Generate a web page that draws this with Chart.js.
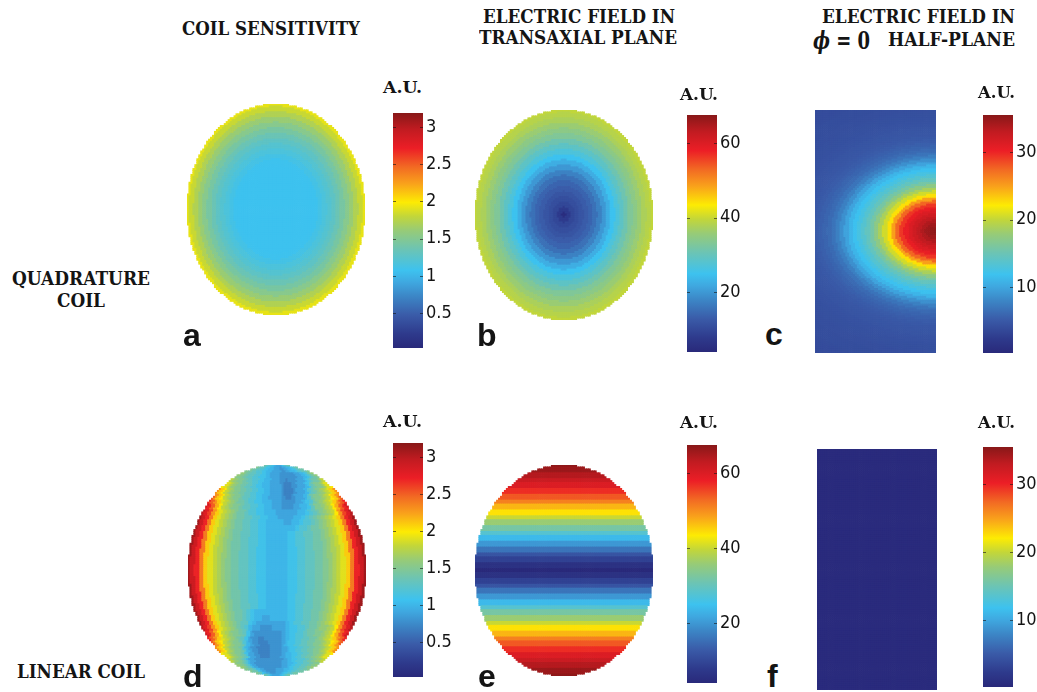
<!DOCTYPE html>
<html><head><meta charset="utf-8">
<script src="https://cdn.jsdelivr.net/npm/chart.js@4.4.1/dist/chart.umd.min.js"></script>
<style>
html,body{margin:0;padding:0;background:#fff;}
#root{position:relative;width:1037px;height:692px;overflow:hidden;background:#fff;}
.box{position:absolute;}
.box canvas{display:block;}
.t{position:absolute;white-space:nowrap;color:#141414;transform-origin:0 0;}
</style></head><body><div id="root"></div>
<script>
// ================= DATA =================
const sensTicks = [0.5, 1, 1.5, 2, 2.5, 3];
const transTicks = [20, 40, 60];
const halfTicks = [10, 20, 30];
const sensRange = [0.03, 3.19];
const transRange = [4, 67.5];
const halfRange = [0.2, 35.5];

// (a) quadrature coil sensitivity vs normalised elliptical radius r = 0, 0.05 ... 1
const quadSensByRadius = [1.07,1.07,1.07,1.07,1.07,1.07,1.07,1.07,1.07,1.08,1.12,1.17,1.22,1.28,1.35,1.43,1.52,1.62,1.72,1.82,1.92];
// (b) quadrature coil E-field (transaxial) vs radius r = 0, 0.05 ... 1
const quadTransByRadius = [5,8,10,11,12,13,14,15.5,17.5,20,22.5,25,27,29,31,33,34.5,36,37.5,38.5,39.5];
// (c) quadrature coil E-field (phi=0 half-plane) vs distance s from the hot spot, s = 0, 0.05 ... 2.5
const quadHalfByDistance = [35.3,35,34.5,33.8,33,32.2,31.4,30.5,29.3,27.5,25,22.5,20.5,18.8,17.2,15.7,14.5,13.5,12.6,11.8,
  11,9.8,8.6,7.6,6.8,6.2,5.8,5.5,5.2,5,4.8,4.7,4.6,4.5,4.4,4.3,4.25,4.2,4.15,4.1,
  4.05,4,4,3.95,3.9,3.9,3.85,3.8,3.8,3.75,3.7];
// (d) linear coil sensitivity (x10): rows v = 1 ... -1 (step 0.05), columns u = -1 ... 1 (step 0.05)
const linSensRows = [
 [14,14,14,13,13,13,13,12,12,12,12,11,11,11,11,10,10,10,10,9,9, 9,9,9,9,9,9,10,10,10,11,11,11,12,12,12,13,13,13,14,14],
 [15,15,14,14,14,13,13,13,12,12,12,11,11,11,10,10,10,10,9,9,9, 9,9,8,8,8,9,9,9,10,10,10,11,11,12,12,13,13,14,14,15],
 [16,16,15,15,14,14,13,13,13,12,12,12,11,11,11,10,10,9,9,9,9, 9,8,8,8,8,8,8,8,8,9,9,9,10,10,11,12,13,14,15,16],
 [18,17,16,16,15,15,14,14,13,13,12,12,12,11,11,10,10,10,9,9,9, 9,8,8,7,8,8,8,8,9,9,9,10,11,12,13,14,14,15,17,18],
 [20,19,18,17,16,15,15,14,14,13,13,12,12,11,11,10,10,10,9,9,9, 9,8,7,7,7,8,8,9,9,9,10,11,13,14,15,15,16,17,19,20],
 [23,21,20,18,17,16,15,15,14,14,13,13,12,12,11,11,10,10,9,9,9, 9,8,7,7,7,8,9,9,9,10,12,13,14,15,16,17,18,19,21,23],
 [25,23,21,20,18,17,16,15,15,14,13,13,12,12,11,11,10,10,9,9,9, 9,8,7,7,8,9,9,9,10,12,14,15,15,16,17,18,20,21,23,25],
 [27,25,23,21,19,18,17,16,15,14,14,13,12,12,11,11,10,10,10,9,9, 9,8,8,8,8,9,9,10,11,12,14,15,16,17,18,19,21,23,25,27],
 [29,27,25,22,20,18,17,16,15,15,14,13,13,12,12,11,11,10,10,9,9, 9,8,8,8,9,9,10,10,11,13,15,15,16,17,18,20,22,25,27,29],
 [30,28,26,23,21,19,18,17,16,15,14,14,13,12,12,11,11,10,10,10,9, 9,9,9,9,9,10,10,11,12,13,14,15,16,17,18,20,23,26,28,30],
 [31,29,27,24,21,19,18,17,16,15,14,14,13,13,12,12,11,11,10,10,10, 9,9,9,9,10,10,11,12,13,14,15,16,17,18,19,21,24,27,29,31],
 [31,29,27,24,21,19,18,17,16,15,14,14,13,13,12,12,11,11,10,10,10, 10,9,9,10,10,11,12,12,13,14,15,16,17,18,19,21,24,27,29,31],
 [31,29,27,24,21,19,18,17,16,15,14,14,13,13,12,12,11,11,10,10,10, 10,10,10,10,11,12,12,13,14,14,15,16,17,18,19,21,24,27,29,31],
 [31,29,27,24,21,19,18,17,16,15,14,14,13,13,12,12,11,11,10,10,10, 10,10,11,11,12,12,13,13,14,14,15,16,17,18,19,21,24,27,29,31],
 [31,29,27,24,21,19,18,17,16,15,14,14,13,13,12,12,11,11,10,10,10, 10,10,11,11,12,12,13,13,14,14,15,16,17,18,19,21,24,27,29,31],
 [31,29,27,24,21,19,18,17,16,15,14,14,13,13,12,12,11,11,10,10,10, 10,10,11,11,12,12,13,13,14,14,15,16,17,18,19,21,24,27,29,31],
 [31,29,27,24,21,19,18,17,16,15,14,14,13,13,12,12,11,11,10,10,10, 10,10,11,11,12,12,13,13,14,14,15,16,17,18,19,21,24,27,29,31],
 [31,29,27,24,21,19,18,17,16,15,14,14,13,13,12,12,11,11,10,10,10, 10,10,11,11,12,12,13,13,14,14,15,16,17,18,19,21,24,27,29,31],
 [31,29,27,24,21,19,18,17,16,15,14,14,13,13,12,12,11,11,10,10,10, 10,10,11,11,12,12,13,13,14,14,15,16,17,18,19,21,24,27,29,31],
 [31,29,27,24,21,19,18,17,16,15,14,14,13,13,12,12,11,11,10,10,10, 10,10,11,11,12,12,13,13,14,14,15,16,17,18,19,21,24,27,29,31],
 [31,29,27,24,21,19,18,17,16,15,14,14,13,13,12,12,11,11,10,10,10, 10,10,11,11,12,12,13,13,14,14,15,16,17,18,19,21,24,27,29,31],
 [31,29,27,24,21,19,18,17,16,15,14,14,13,13,12,12,11,11,10,10,10, 10,10,11,11,12,12,13,13,14,14,15,16,17,18,19,21,24,27,29,31],
 [31,29,27,24,21,19,18,17,16,15,14,14,13,13,12,12,11,11,10,10,10, 10,10,11,11,12,12,13,13,14,14,15,16,17,18,19,21,24,27,29,31],
 [31,29,27,24,21,19,18,17,16,15,14,14,13,13,12,12,11,11,10,10,10, 10,10,11,11,12,12,13,13,14,14,15,16,17,18,19,21,24,27,29,31],
 [31,29,27,24,21,19,18,17,16,15,14,14,13,13,12,12,11,11,10,10,10, 10,10,11,11,12,12,13,13,14,14,15,16,17,18,19,21,24,27,29,31],
 [31,29,27,24,21,19,18,17,16,15,14,14,13,13,12,12,11,11,10,10,10, 10,10,11,11,12,12,13,13,14,14,15,16,17,18,19,21,24,27,29,31],
 [31,29,27,24,21,19,18,17,16,15,14,14,13,13,12,12,11,11,10,10,10, 10,10,11,11,12,12,13,13,14,14,15,16,17,18,19,21,24,27,29,31],
 [31,29,27,24,21,19,18,17,16,15,14,14,13,13,12,12,11,11,10,10,10, 10,10,11,11,12,12,13,13,14,14,15,16,17,18,19,21,24,27,29,31],
 [31,29,27,24,21,19,18,17,16,15,14,14,13,12,11,10,10,10,10,10,10, 10,10,11,11,12,12,13,13,14,14,15,16,17,18,19,21,24,27,29,31],
 [31,29,27,24,21,19,18,17,16,15,14,14,13,12,11,10,10,9,9,10,10, 10,10,11,11,12,12,13,13,14,14,15,16,17,18,19,21,24,27,29,31],
 [31,29,27,24,21,19,18,17,16,15,14,13,13,11,10,9,9,9,9,9,9, 9,9,10,11,12,12,13,13,14,14,15,16,17,18,19,21,24,27,29,31],
 [30,28,26,23,21,19,18,17,16,15,14,13,12,10,9,9,8,8,8,9,9, 9,9,10,11,11,12,12,13,14,14,15,16,16,17,18,20,23,26,28,30],
 [29,27,25,22,20,18,17,16,15,15,14,13,11,9,8,8,8,8,8,8,8, 8,9,10,11,11,12,12,13,14,14,15,15,16,17,18,20,22,25,27,29],
 [27,25,23,21,19,18,17,16,15,14,13,11,9,8,8,7,7,8,8,8,8, 8,9,10,11,11,12,12,13,13,14,14,15,16,17,18,19,21,23,25,27],
 [25,23,21,20,18,17,16,15,15,14,12,10,9,8,8,7,7,7,8,8,8, 8,9,10,11,11,12,12,13,13,14,14,15,15,16,17,18,20,21,23,25],
 [23,21,20,18,17,16,15,15,14,12,10,9,8,8,7,7,7,7,8,8,8, 8,9,9,10,11,11,12,12,13,13,14,14,15,15,16,17,18,19,21,23],
 [20,19,18,17,16,15,15,14,13,11,9,9,8,8,7,7,7,7,8,8,8, 8,9,9,10,10,11,11,12,12,13,13,14,14,15,15,16,17,18,19,20],
 [18,17,16,16,15,14,13,12,10,9,9,8,8,8,8,8,8,8,8,8,8, 8,8,9,9,10,10,11,11,12,12,12,13,13,14,14,15,16,16,17,18],
 [16,16,15,15,14,13,12,10,9,9,8,8,8,8,8,8,8,8,8,8,8, 8,8,9,9,9,10,10,11,11,12,12,12,13,13,13,14,14,15,15,16],
 [15,15,14,14,14,13,12,11,10,10,9,9,9,8,8,8,8,8,8,8,9, 9,9,9,9,10,10,10,11,11,11,12,12,12,13,13,13,14,14,14,15],
 [14,14,14,13,13,13,12,12,11,11,10,10,9,9,9,9,9,9,9,9,9, 9,9,9,10,10,10,10,11,11,11,12,12,12,13,13,13,13,14,14,14]
];
// (e) linear coil E-field (transaxial) vs |y| = 0, 0.05 ... 1
const linTransByHeight = [4,6,9,12,16,20,24,28,32,36,40,44,47,51,54,57,60,62,64,66,67];
// (f) linear coil E-field in the phi=0 half-plane (uniform)
const linHalfLevel = [0.5];

// ================= STYLE / LAYOUT =================
const jetStops = [
 [0.00,'#29297a'],[0.06,'#2e3a8c'],[0.14,'#3a5ba8'],[0.22,'#3c86c6'],[0.28,'#3fa8e0'],
 [0.33,'#3dc2ef'],[0.42,'#6cc4b4'],[0.50,'#97cb77'],[0.56,'#c2d63a'],[0.62,'#fdeb03'],
 [0.70,'#f9a11b'],[0.77,'#f26a23'],[0.85,'#ec1e26'],[0.93,'#c11b21'],[1.00,'#881818']
];
const panels = {
 a:{x:185,y:102,w:182,h:215}, b:{x:473,y:108,w:182,h:214}, c:{x:813,y:108,w:125,h:247},
 d:{x:186,y:463,w:182,h:215}, e:{x:473,y:463,w:182,h:215}, f:{x:815,y:447,w:124,h:245}
};
const bars = {
 a:{x:393,y:113,w:30,h:235}, b:{x:687,y:115,w:30,h:237}, c:{x:983,y:115,w:30,h:238},
 d:{x:393,y:443,w:30,h:234}, e:{x:687,y:445,w:30,h:238}, f:{x:983,y:447,w:30,h:240}
};
const hotSpotScale = {x:0.704, y:0.53};

const root = document.getElementById('root');
Chart.defaults.font.family = "'Liberation Sans', Arial, sans-serif";

function hex(c){return [parseInt(c.slice(1,3),16),parseInt(c.slice(3,5),16),parseInt(c.slice(5,7),16)];}
const stopsRGB = jetStops.map(([t,c]) => [t, hex(c)]);
function colorFor(v, range) {
  let t = (v - range[0]) / (range[1] - range[0]);
  t = Math.max(0, Math.min(1, t));
  for (let i = 1; i < stopsRGB.length; i++) {
    const [t1, c1] = stopsRGB[i];
    if (t <= t1) {
      const [t0, c0] = stopsRGB[i-1];
      const k = (t - t0) / (t1 - t0);
      return `rgb(${c0.map((a,j)=>Math.round(a+(c1[j]-a)*k)).join(',')})`;
    }
  }
  return jetStops[jetStops.length-1][1];
}

function makeCanvas(x, y, w, h) {
  const d = document.createElement('div');
  d.className = 'box';
  d.style.left = x + 'px'; d.style.top = y + 'px';
  d.style.width = w + 'px'; d.style.height = h + 'px';
  const c = document.createElement('canvas');
  c.width = w; c.height = h; c.style.width = w + 'px'; c.style.height = h + 'px';
  d.appendChild(c); root.appendChild(d);
  return c;
}

function gridCells(box, xr, yr, inside, valueAt) {
  const nx = Math.round(box.w / 2), ny = Math.round(box.h / 2);
  const pts = [], vals = [];
  for (let j = 0; j < ny; j++) for (let i = 0; i < nx; i++) {
    const x = xr[0] + (i + 0.5) * (xr[1] - xr[0]) / nx;
    const y = yr[1] - (j + 0.5) * (yr[1] - yr[0]) / ny;
    if (!inside(x, y)) continue;
    pts.push({x, y}); vals.push(valueAt(x, y));
  }
  return {pts, vals, pitch: box.w / nx};
}

function heatmap(key, xr, yr, inside, valueAt, range) {
  const box = panels[key];
  const cv = makeCanvas(box.x, box.y, box.w, box.h);
  const g = gridCells(box, xr, yr, inside, valueAt);
  new Chart(cv, {
    type: 'scatter',
    data: { datasets: [{
      data: g.pts,
      pointStyle: 'rect',
      pointRadius: (g.pitch + 0.7) / Math.SQRT2,
      pointHoverRadius: 0,
      pointBorderWidth: 0,
      pointBackgroundColor: g.vals.map(v => colorFor(v, range))
    }]},
    options: {
      responsive: false, animation: false, events: [], devicePixelRatio: 1,
      layout: { padding: 0 },
      plugins: { legend: {display: false}, tooltip: {enabled: false} },
      scales: {
        x: { type: 'linear', display: false, min: xr[0], max: xr[1] },
        y: { type: 'linear', display: false, min: yr[0], max: yr[1] }
      }
    }
  });
}

// small inner tick marks on both edges of the colour bar (MATLAB style)
const innerTicks = {
  id: 'innerTicks',
  afterDatasetsDraw(chart) {
    const {ctx, chartArea: a, scales: {y}} = chart;
    ctx.save();
    ctx.strokeStyle = 'rgba(20,20,20,0.6)';
    ctx.lineWidth = 1;
    y.ticks.forEach(t => {
      const py = Math.round(y.getPixelForValue(t.value)) + 0.5;
      ctx.beginPath();
      ctx.moveTo(a.left, py); ctx.lineTo(a.left + 3, py);
      ctx.moveTo(a.right - 3, py); ctx.lineTo(a.right, py);
      ctx.stroke();
    });
    ctx.restore();
  }
};

function colorbar(key, range, ticks) {
  const b = bars[key];
  const pad = 14, labelW = 30;
  const cv = makeCanvas(b.x, b.y - pad, b.w + labelW, b.h + 2 * pad);
  new Chart(cv, {
    type: 'bar',
    data: { labels: [''], datasets: [{
      data: [[range[0], range[1]]],
      barPercentage: 1, categoryPercentage: 1, borderWidth: 0,
      backgroundColor: (c) => {
        const ch = c.chart;
        if (!ch.chartArea) return '#888';
        const ys = ch.scales.y;
        const gr = ch.ctx.createLinearGradient(0, ys.getPixelForValue(range[0]), 0, ys.getPixelForValue(range[1]));
        jetStops.forEach(([t, col]) => gr.addColorStop(t, col));
        return gr;
      }
    }]},
    plugins: [innerTicks],
    options: {
      responsive: false, animation: false, events: [], devicePixelRatio: 1,
      layout: { padding: { top: pad, bottom: pad, left: 0, right: 0 } },
      plugins: { legend: {display: false}, tooltip: {enabled: false} },
      scales: {
        x: { display: false },
        y: {
          position: 'right', min: range[0], max: range[1],
          grid: { display: false, drawTicks: false }, border: { display: false },
          afterBuildTicks: (s) => { s.ticks = ticks.map(v => ({value: v})); },
          afterFit: (s) => { s.width = labelW; },
          ticks: {
            padding: 3, color: '#141414',
            font: { family: "'Liberation Sans Narrow', 'DejaVu Sans Condensed', 'Liberation Sans', sans-serif", size: 18 },
            callback: (v) => String(v)
          }
        }
      }
    }
  });
}

const inEllipse = (x, y) => x * x + y * y <= 1;
const inRect = () => true;
const clampIdx = (i, n) => Math.max(0, Math.min(n - 1, i));

heatmap('a', [-1,1], [-1,1], inEllipse,
  (x, y) => quadSensByRadius[clampIdx(Math.round(Math.hypot(x, y) / 0.05), quadSensByRadius.length)], sensRange);
heatmap('b', [-1,1], [-1,1], inEllipse,
  (x, y) => quadTransByRadius[clampIdx(Math.round(Math.hypot(x, y) / 0.05), quadTransByRadius.length)], transRange);
heatmap('c', [0,1], [-1,1], inRect,
  (x, y) => quadHalfByDistance[clampIdx(Math.round(Math.hypot((1 - x) / hotSpotScale.x, y / hotSpotScale.y) / 0.05), quadHalfByDistance.length)], halfRange);
heatmap('d', [-1,1], [-1,1], inEllipse,
  (x, y) => {
    const row = clampIdx(Math.round((1 - y) / 0.05), linSensRows.length);
    const hw = Math.sqrt(Math.max(1 - y * y, 1e-4));
    const u = Math.max(-1, Math.min(1, x / hw));
    const col = clampIdx(Math.round((u + 1) / 0.05), 41);
    return linSensRows[row][col] / 10;
  }, sensRange);
heatmap('e', [-1,1], [-1,1], inEllipse,
  (x, y) => linTransByHeight[clampIdx(Math.round(Math.abs(y) / 0.05), linTransByHeight.length)], transRange);
heatmap('f', [0,1], [-1,1], inRect, () => linHalfLevel[0], halfRange);

colorbar('a', sensRange, sensTicks);
colorbar('b', transRange, transTicks);
colorbar('c', halfRange, halfTicks);
colorbar('d', sensRange, sensTicks);
colorbar('e', transRange, transTicks);
colorbar('f', halfRange, halfTicks);

// ================= TEXT =================
function addText(html, x, base, w, font) {
  const d = document.createElement('div');
  d.className = 't';
  d.style.font = font;
  d.style.lineHeight = '1.3';
  d.innerHTML = html + '<span class="m" style="display:inline-block;width:0;height:0;vertical-align:baseline"></span>';
  root.appendChild(d);
  const m = d.querySelector('.m');
  const baseOff = m.offsetTop;
  const actual = d.getBoundingClientRect().width;
  d.style.left = x + 'px';
  d.style.top = (base - baseOff) + 'px';
  if (w) d.style.transform = `scaleX(${w / actual})`;
}
const serif = "bold 18px 'DejaVu Serif', serif";
addText('COIL SENSITIVITY', 182, 35, 178, serif);
addText('ELECTRIC FIELD IN', 483, 23, 192, serif);
addText('TRANSAXIAL PLANE', 479, 44, 198, serif);
addText('ELECTRIC FIELD IN', 822, 23, 193, serif);
addText('HALF-PLANE', 888, 46, 127, serif);
addText('<i>ϕ</i> = 0', 813, 49, 57, "bold 24px 'DejaVu Serif', serif");
addText('QUADRATURE', 12, 285, 138, serif);
addText('COIL', 57, 307, 48, serif);
addText('LINEAR COIL', 17, 678, 128, serif);
const au = "bold 16px 'DejaVu Serif', serif";
addText('A.U.', 383, 93, 39, au);
addText('A.U.', 680, 100, 38, au);
addText('A.U.', 978, 98, 37, au);
addText('A.U.', 383, 427, 39, au);
addText('A.U.', 680, 428, 38, au);
addText('A.U.', 978, 428, 37, au);
const lf = "bold 32px 'Liberation Sans', Arial, sans-serif";
addText('a', 183, 346, 0, lf);
addText('b', 477, 346, 0, lf);
addText('c', 765, 345, 0, lf);
addText('d', 183, 687, 0, lf);
addText('e', 478, 687, 0, lf);
addText('f', 767, 687, 0, lf);
</script></body></html>
